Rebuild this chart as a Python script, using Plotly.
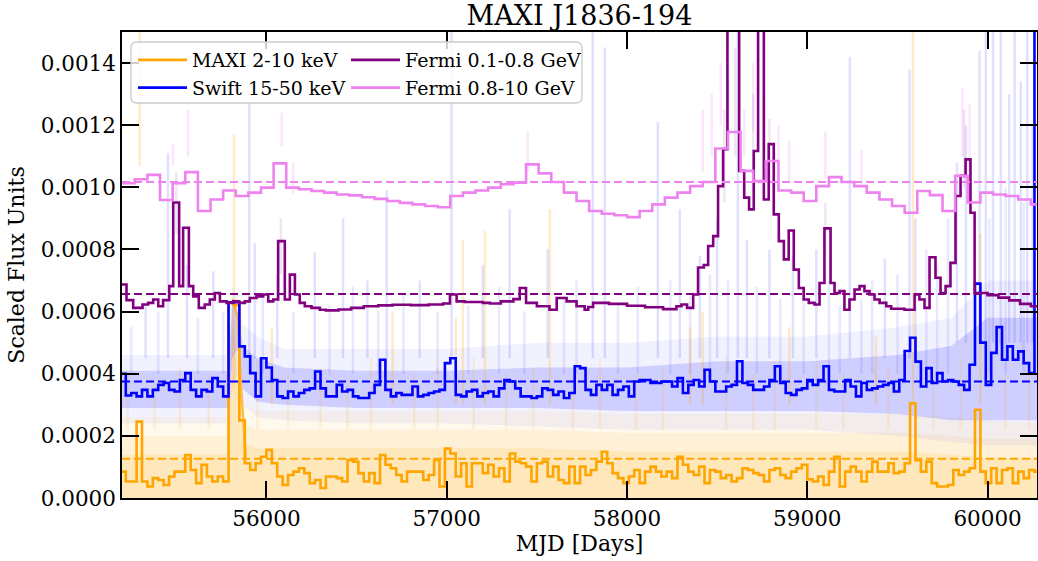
import plotly.graph_objects as go

# ---------------- data ----------------
bin_start = 55190          # MJD of first 30-day bin (MAXI / Swift)
bin_days = 30

maxi_vals = [
    0.000085, 0.000053, 0.000053, 0.000246, 0.000053, 0.000037, 0.000064, 0.000058, 0.000042, 0.000069,
    0.000085, 0.000085, 0.000138, 0.000090, 0.000048, 0.000107, 0.000069, 0.000053, 0.000069, 0.000053,
    0.000630, 0.000620, 0.000250, 0.000112, 0.000090, 0.000112, 0.000133, 0.000155, 0.000112, 0.000069,
    0.000042, 0.000074, 0.000085, 0.000096, 0.000080, 0.000048, 0.000058, 0.000032, 0.000069, 0.000069,
    0.000064, 0.000053, 0.000122, 0.000117, 0.000080, 0.000053, 0.000080, 0.000048, 0.000138, 0.000107,
    0.000096, 0.000074, 0.000053, 0.000085, 0.000085, 0.000085, 0.000058, 0.000074, 0.000122, 0.000037,
    0.000159, 0.000143, 0.000069, 0.000112, 0.000037, 0.000112, 0.000112, 0.000080, 0.000107, 0.000069,
    0.000096, 0.000053, 0.000143, 0.000117, 0.000112, 0.000101, 0.000053, 0.000112, 0.000117, 0.000069,
    0.000101, 0.000058, 0.000048, 0.000101, 0.000048, 0.000101, 0.000074, 0.000090, 0.000117, 0.000149,
    0.000112, 0.000080, 0.000064, 0.000048, 0.000069, 0.000090, 0.000048, 0.000085, 0.000101, 0.000085,
    0.000069, 0.000085, 0.000064, 0.000133, 0.000107, 0.000085, 0.000074, 0.000101, 0.000048, 0.000090,
    0.000085, 0.000064, 0.000074, 0.000053, 0.000064, 0.000096, 0.000090, 0.000080, 0.000074, 0.000053,
    0.000090, 0.000096, 0.000074, 0.000064, 0.000085, 0.000096, 0.000107, 0.000060, 0.000053, 0.000069,
    0.000042, 0.000085, 0.000133, 0.000037, 0.000085, 0.000101, 0.000085, 0.000053, 0.000085, 0.000117,
    0.000085, 0.000085, 0.000112, 0.000080, 0.000085, 0.000112, 0.000305, 0.000122, 0.000085, 0.000117,
    0.000048, 0.000037, 0.000037, 0.000042, 0.000090, 0.000074, 0.000085, 0.000096, 0.000284, 0.000085,
    0.000048, 0.000096, 0.000048, 0.000090, 0.000096, 0.000048, 0.000085, 0.000064, 0.000090, 0.000085,
]

swift_vals = [
    0.000400, 0.000330, 0.000338, 0.000327, 0.000348, 0.000327, 0.000348, 0.000364, 0.000370, 0.000348,
    0.000343, 0.000380, 0.000402, 0.000348, 0.000327, 0.000348, 0.000343, 0.000386, 0.000359, 0.000327,
    0.000630, 0.000630, 0.000488, 0.000456, 0.000402, 0.000327, 0.000450, 0.000420, 0.000380, 0.000327,
    0.000322, 0.000343, 0.000327, 0.000338, 0.000348, 0.000353, 0.000407, 0.000353, 0.000327, 0.000327,
    0.000364, 0.000343, 0.000348, 0.000327, 0.000322, 0.000322, 0.000338, 0.000364, 0.000445, 0.000348,
    0.000327, 0.000338, 0.000332, 0.000332, 0.000359, 0.000327, 0.000332, 0.000338, 0.000343, 0.000348,
    0.000434, 0.000450, 0.000332, 0.000327, 0.000343, 0.000348, 0.000327, 0.000338, 0.000343, 0.000327,
    0.000353, 0.000380, 0.000375, 0.000353, 0.000327, 0.000327, 0.000322, 0.000327, 0.000353, 0.000348,
    0.000332, 0.000343, 0.000322, 0.000338, 0.000424, 0.000418, 0.000348, 0.000332, 0.000364, 0.000348,
    0.000364, 0.000332, 0.000348, 0.000359, 0.000327, 0.000375, 0.000380, 0.000380, 0.000370, 0.000370,
    0.000375, 0.000375, 0.000359, 0.000386, 0.000338, 0.000364, 0.000380, 0.000359, 0.000413, 0.000375,
    0.000343, 0.000343, 0.000359, 0.000364, 0.000440, 0.000370, 0.000364, 0.000348, 0.000348, 0.000359,
    0.000380, 0.000424, 0.000370, 0.000338, 0.000332, 0.000348, 0.000353, 0.000380, 0.000364, 0.000380,
    0.000424, 0.000348, 0.000343, 0.000343, 0.000380, 0.000359, 0.000327, 0.000370, 0.000348, 0.000353,
    0.000359, 0.000364, 0.000370, 0.000343, 0.000380, 0.000473, 0.000516, 0.000439, 0.000359, 0.000418,
    0.000370, 0.000402, 0.000375, 0.000380, 0.000375, 0.000364, 0.000348, 0.000429, 0.000690, 0.000500,
    0.000364, 0.000467, 0.000550, 0.000445, 0.000488, 0.000445, 0.000472, 0.000434, 0.000402, 0.002500,
]

# Fermi 0.1-0.8 GeV: bin start MJDs (last entry = end of last bin) and values
fermi_lo_edges = [
    55190, 55224, 55261, 55313, 55344, 55372, 55400, 55427, 55461, 55483, 55516, 55538, 55570, 55594,
    55625, 55658, 55686, 55714, 55742, 55779, 55816, 55849, 55880, 55908, 55945, 55982, 56010, 56038,
    56065, 56102, 56130, 56158, 56185, 56213, 56250, 56296, 56330, 56400, 56470, 56540, 56620, 56700,
    56800, 56900, 56980, 57018, 57055, 57100, 57200, 57240, 57300, 57370, 57405, 57440, 57500, 57570,
    57610, 57665, 57720, 57765, 57785, 57812, 57900, 58000, 58100, 58200, 58274, 58302, 58333, 58367,
    58394, 58426, 58450, 58478, 58505, 58533, 58557, 58590, 58622, 58650, 58677, 58703, 58727, 58759,
    58786, 58814, 58842, 58870, 58897, 58925, 58953, 58980, 59008, 59040, 59068, 59095, 59129, 59151,
    59179, 59206, 59234, 59262, 59290, 59317, 59345, 59373, 59401, 59438, 59465, 59539, 59595, 59622,
    59650, 59678, 59711, 59739, 59767, 59794, 59822, 59850, 59878, 59905, 59928, 60000, 60060, 60120,
    60180, 60240, 60290,
]
fermi_lo_vals = [
    0.000687, 0.000637, 0.000612, 0.000623, 0.000628, 0.000639, 0.000617, 0.000637, 0.000682, 0.000951,
    0.000682, 0.000870, 0.000682, 0.000649, 0.000612, 0.000623, 0.000639, 0.000660, 0.000633, 0.000628,
    0.000633, 0.000628, 0.000633, 0.000644, 0.000649, 0.000655, 0.000633, 0.000639, 0.000827, 0.000639,
    0.000719, 0.000655, 0.000628, 0.000617, 0.000612, 0.000606, 0.000604, 0.000607, 0.000612, 0.000617,
    0.000620, 0.000622, 0.000621, 0.000623, 0.000626, 0.000655, 0.000633, 0.000631, 0.000628, 0.000626,
    0.000633, 0.000640, 0.000676, 0.000628, 0.000617, 0.000606, 0.000644, 0.000633, 0.000617, 0.000606,
    0.000615, 0.000628, 0.000625, 0.000619, 0.000614, 0.000608, 0.000617, 0.000623, 0.000612, 0.000655,
    0.000742, 0.000750, 0.000811, 0.000843, 0.001004, 0.001123, 0.001800, 0.001800, 0.001053, 0.000967,
    0.000929, 0.001117, 0.001800, 0.000961, 0.001139, 0.000913, 0.000827, 0.000768, 0.000861, 0.000735,
    0.000676, 0.000639, 0.000628, 0.000623, 0.000692, 0.000868, 0.000692, 0.000660, 0.000666, 0.000606,
    0.000639, 0.000671, 0.000682, 0.000666, 0.000655, 0.000639, 0.000628, 0.000617, 0.000609, 0.000606,
    0.000655, 0.000639, 0.000612, 0.000775, 0.000709, 0.000660, 0.000682, 0.000757, 0.000972, 0.001037,
    0.001090, 0.000918, 0.000660, 0.000653, 0.000645, 0.000636, 0.000625, 0.000617,
]

# Fermi 0.8-10 GeV: 70-day bins
fermi_hi_start = 55200
fermi_hi_days = 70
fermi_hi_vals = [
    0.001013, 0.001026, 0.001040, 0.000959, 0.001013, 0.001049, 0.000924, 0.000961, 0.000990, 0.000972,
    0.000983, 0.000999, 0.001077, 0.000999, 0.000994, 0.000988, 0.000983, 0.000977, 0.000974, 0.000968,
    0.000963, 0.000956, 0.000950, 0.000945, 0.000940, 0.000936, 0.000972, 0.000983, 0.000990, 0.000999,
    0.001010, 0.001015, 0.001074, 0.001045, 0.001017, 0.000983, 0.000956, 0.000924, 0.000915, 0.000910,
    0.000904, 0.000924, 0.000945, 0.000967, 0.000983, 0.001004, 0.001017, 0.001125, 0.001178, 0.001053,
    0.001020, 0.001085, 0.000990, 0.000983, 0.000956, 0.001004, 0.001033, 0.001017, 0.001004, 0.000983,
    0.000961, 0.000940, 0.000918, 0.000988, 0.000975, 0.000924, 0.001037, 0.000951, 0.000983, 0.000977,
    0.000972, 0.000961, 0.000945,
]

# long-term mean levels (dashed lines)
mean_maxi = 0.000126
mean_swift = 0.000375
mean_fermi_lo = 0.000657
mean_fermi_hi = 0.001017

# faint unbinned scatter, summarised as envelopes
band_t = [55190, 55790, 55810, 55840, 55870, 55950, 56100, 56500, 57000, 57500, 58000, 58500, 59000,
          59500, 59800, 60000, 60290]
maxi_env_outer = [0.00026, 0.00026, 0.00066, 0.00050, 0.00030, 0.00028, 0.00028, 0.00028, 0.00028,
                  0.00028, 0.00027, 0.00027, 0.00027, 0.00027, 0.00026, 0.00025, 0.00024]
maxi_env_mid = [0.00020, 0.00020, 0.00062, 0.00045, 0.00024, 0.00022, 0.00022, 0.00022, 0.00022,
                0.00022, 0.00021, 0.00021, 0.00021, 0.00021, 0.00020, 0.00019, 0.00019]
maxi_env_inner = [0.00014, 0.00014, 0.00058, 0.00038, 0.00018, 0.00016, 0.00016, 0.00016, 0.00016,
                  0.00016, 0.00015, 0.00015, 0.00015, 0.00015, 0.00014, 0.00013, 0.00013]
swift_env_lo_outer = [0.00024, 0.00024, 0.00036, 0.00040, 0.00030, 0.00026, 0.00025, 0.00024, 0.00024,
                      0.00023, 0.00022, 0.00022, 0.00022, 0.00020, 0.00018, 0.00017, 0.00017]
swift_env_hi_outer = [0.00046, 0.00046, 0.00068, 0.00066, 0.00056, 0.00052, 0.00048, 0.00048, 0.00048,
                      0.00050, 0.00050, 0.00052, 0.00052, 0.00055, 0.00058, 0.00070, 0.00070]
swift_env_lo_inner = [0.00029, 0.00029, 0.00045, 0.00048, 0.00035, 0.00031, 0.00030, 0.00029, 0.00029,
                      0.00029, 0.00028, 0.00028, 0.00028, 0.00027, 0.00025, 0.00025, 0.00025]
swift_env_hi_inner = [0.00041, 0.00041, 0.00064, 0.00060, 0.00049, 0.00045, 0.00042, 0.00041, 0.00041,
                      0.00042, 0.00042, 0.00044, 0.00044, 0.00046, 0.00049, 0.00058, 0.00058]

# prominent individual faint points (MJD, lower, upper)
swift_spike_t = [55330, 55454, 55560, 55705, 55905, 55935, 56060, 56268, 56425, 56560, 56667, 56850,
                 57027, 57200, 57349, 57560, 57810, 57877, 58171, 58293, 58404, 58500, 58615, 58665,
                 58790, 58920, 59050, 59236, 59430, 59567, 59600, 59830, 59880, 59955, 59990, 60030,
                 60073, 60120, 60150, 60184, 60220, 60250]
swift_spike_lo = [0.00045] * 31 + [0.0005] * 11
swift_spike_hi = [0.00062, 0.00111, 0.00075, 0.00073, 0.00127, 0.00082, 0.00072, 0.00079, 0.00090,
                  0.00070, 0.00099, 0.00070, 0.00150, 0.00075, 0.00093, 0.00080, 0.00150, 0.00145,
                  0.00121, 0.00093, 0.00078, 0.00090, 0.00150, 0.00083, 0.00080, 0.00078, 0.00080,
                  0.00142, 0.00077, 0.00138, 0.00090, 0.00108, 0.00120, 0.00144, 0.00150, 0.00150,
                  0.00150, 0.00130, 0.00150, 0.00134, 0.00150, 0.00120]
# weaker streaks in the scatter
swift_streak_t = [55250, 55400, 55620, 55760, 55980, 56150, 56350, 56480, 56620, 56760, 56950, 57120,
                  57290, 57430, 57650, 57720, 57950, 58060, 58240, 58350, 58460, 58560, 58720, 58850,
                  58980, 59120, 59180, 59300, 59360, 59500, 59660, 59720, 59780, 60010, 60100, 60200]
swift_streak_hi = [0.00055, 0.00060, 0.00058, 0.00060, 0.00065, 0.00060, 0.00062, 0.00068, 0.00060,
                   0.00066, 0.00060, 0.00062, 0.00068, 0.00060, 0.00065, 0.00070, 0.00062, 0.00068,
                   0.00070, 0.00065, 0.00072, 0.00070, 0.00068, 0.00064, 0.00066, 0.00070, 0.00062,
                   0.00064, 0.00070, 0.00072, 0.00080, 0.00075, 0.00090, 0.00090, 0.00100, 0.00095]
swift_streak_lo = [0.00040] * len(swift_streak_t)
maxi_spike_t = [55297, 55820, 56030, 56700, 57050, 57090, 57212, 57572, 58350, 58420, 58900, 59380,
                59586, 59960]
maxi_spike_lo = [0.00107, 0.00035, 0.0003, 0.0003, 0.0003, 0.0003, 0.0003, 0.0003, 0.0003, 0.0003,
                 0.0003, 0.0003, 0.0003, 0.0003]
maxi_spike_hi = [0.00150, 0.00117, 0.00055, 0.00060, 0.00058, 0.00083, 0.00086, 0.00093, 0.00055,
                 0.00060, 0.00055, 0.00052, 0.00150, 0.00085]
maxi_streak_t = [55230, 55380, 55520, 55680, 55950, 56120, 56300, 56450, 56580, 56820, 56950, 57150,
                 57330, 57480, 57700, 57850, 58050, 58200, 58550, 58700, 58820, 59050, 59200, 59450,
                 59700, 59850, 60100, 60230]
maxi_streak_hi = [0.00040, 0.00038, 0.00042, 0.00040, 0.00045, 0.00040, 0.00042, 0.00038, 0.00045,
                  0.00040, 0.00042, 0.00045, 0.00040, 0.00042, 0.00040, 0.00045, 0.00040, 0.00042,
                  0.00045, 0.00040, 0.00042, 0.00044, 0.00040, 0.00042, 0.00040, 0.00045, 0.00040,
                  0.00042]
maxi_streak_lo = [0.00022] * len(maxi_streak_t)
maxi_outburst_t = [55815, 55840, 55855, 55870, 55885]
maxi_outburst_v = [0.00064, 0.00058, 0.00040, 0.00025, 0.00013]
fermi_hi_err_t = [55482, 55565, 56085, 56148, 57450, 58420, 58470, 58520, 58560, 58650, 58700, 58760,
                  58840, 58900, 59100, 59300, 59860, 59900]
fermi_hi_err_lo = [0.00107, 0.00110, 0.00113, 0.00098, 0.00105, 0.00105, 0.00110, 0.00120, 0.00115,
                   0.00110, 0.00118, 0.00110, 0.00105, 0.00102, 0.00103, 0.00100, 0.00110, 0.00105]
fermi_hi_err_hi = [0.00114, 0.00125, 0.00124, 0.00108, 0.00118, 0.00125, 0.00130, 0.00140, 0.00135,
                   0.00125, 0.00140, 0.00128, 0.00120, 0.00115, 0.00118, 0.00112, 0.00132, 0.00127]
fermi_lo_err_t = [55500, 56080, 58540, 58600, 58700, 58790, 59100, 59870]
fermi_lo_err_lo = [0.00085, 0.00072, 0.00095, 0.00110, 0.00100, 0.00100, 0.00078, 0.00100]
fermi_lo_err_hi = [0.00105, 0.00090, 0.00125, 0.00145, 0.00130, 0.00122, 0.00095, 0.00125]

# ---------------- styling ----------------
C_MAXI = "#FFA500"
C_SWIFT = "#0000FF"
C_FLO = "#800080"
C_FHI = "#EE82EE"
X_RANGE = [55199, 60274]
Y_RANGE = [0, 0.0015]
FONT = "DejaVu Serif"


def rgba(hexc, a):
    h = hexc.lstrip("#")
    return "rgba(%d,%d,%d,%.3f)" % (int(h[0:2], 16), int(h[2:4], 16), int(h[4:6], 16), a)


def step_xy(edges, vals):
    return list(edges), list(vals) + [vals[-1]]


def segs(ts, los, his):
    xs, ys = [], []
    for t, lo, hi in zip(ts, los, his):
        xs += [t, t, None]
        ys += [lo, hi, None]
    return xs, ys


fig = go.Figure()


def band(lo, hi, color, alpha):
    fig.add_trace(go.Scatter(x=band_t, y=lo, mode="lines", line=dict(width=0),
                             hoverinfo="skip", showlegend=False))
    fig.add_trace(go.Scatter(x=band_t, y=hi, mode="lines", line=dict(width=0), fill="tonexty",
                             fillcolor=rgba(color, alpha), hoverinfo="skip", showlegend=False))


zeros = [0.0] * len(band_t)
band(zeros, maxi_env_outer, C_MAXI, 0.07)
band(zeros, maxi_env_mid, C_MAXI, 0.09)
band(zeros, maxi_env_inner, C_MAXI, 0.12)
band(swift_env_lo_outer, swift_env_hi_outer, C_SWIFT, 0.05)
band(swift_env_lo_inner, swift_env_hi_inner, C_SWIFT, 0.14)

for ts, los, his, col, a, w in [
    (maxi_streak_t, maxi_streak_lo, maxi_streak_hi, C_MAXI, 0.12, 2.5),
    (swift_streak_t, swift_streak_lo, swift_streak_hi, C_SWIFT, 0.09, 2.5),
    (maxi_spike_t, maxi_spike_lo, maxi_spike_hi, C_MAXI, 0.22, 2.5),
    (swift_spike_t, swift_spike_lo, swift_spike_hi, C_SWIFT, 0.12, 2.5),
    (fermi_hi_err_t, fermi_hi_err_lo, fermi_hi_err_hi, C_FHI, 0.2, 2.5),
    (fermi_lo_err_t, fermi_lo_err_lo, fermi_lo_err_hi, C_FLO, 0.1, 2.5),
]:
    sx, sy = segs(ts, los, his)
    fig.add_trace(go.Scatter(x=sx, y=sy, mode="lines", line=dict(color=rgba(col, a), width=w),
                             hoverinfo="skip", showlegend=False))

fig.add_trace(go.Scatter(x=maxi_outburst_t, y=maxi_outburst_v, mode="lines",
                         line=dict(color=rgba(C_MAXI, 0.7), width=2.5), hoverinfo="skip",
                         showlegend=False))

# --- binned step curves ---
n = len(maxi_vals)
bin_edges = [bin_start + bin_days * k for k in range(n + 1)]
hi_edges = [fermi_hi_start + fermi_hi_days * k for k in range(len(fermi_hi_vals) + 1)]

curves = [
    ("MAXI 2-10 keV", bin_edges, maxi_vals, C_MAXI, "legend", 1),
    ("Swift 15-50 keV", bin_edges, swift_vals, C_SWIFT, "legend", 2),
    ("Fermi 0.1-0.8 GeV", fermi_lo_edges, fermi_lo_vals, C_FLO, "legend2", 1),
    ("Fermi 0.8-10 GeV", hi_edges, fermi_hi_vals, C_FHI, "legend2", 2),
]
for name, edges, vals, col, lg, rank in curves:
    x, y = step_xy(edges, vals)
    fig.add_trace(go.Scatter(x=x, y=y, mode="lines", name=name, line=dict(color=col, width=2.6, shape="hv"),
                             legend=lg, legendrank=rank))

for m, col in [(mean_maxi, C_MAXI), (mean_swift, C_SWIFT), (mean_fermi_lo, C_FLO), (mean_fermi_hi, C_FHI)]:
    fig.add_trace(go.Scatter(x=X_RANGE, y=[m, m], mode="lines", line=dict(color=col, width=2, dash="8px,4px"),
                             hoverinfo="skip", showlegend=False))

# --- legend frame (rounded) ---
x0, x1, y0, y1 = 0.0098, 0.5027, 0.8476, 0.9785
rx, ry = 6 / 915, 6 / 466
path = (f"M {x0+rx},{y1} L {x1-rx},{y1} Q {x1},{y1} {x1},{y1-ry} L {x1},{y0+ry} Q {x1},{y0} {x1-rx},{y0} "
        f"L {x0+rx},{y0} Q {x0},{y0} {x0},{y0+ry} L {x0},{y1-ry} Q {x0},{y1} {x0+rx},{y1} Z")
fig.add_shape(type="path", path=path, xref="paper", yref="paper", layer="above",
              fillcolor="rgba(255,255,255,0.8)", line=dict(color="rgba(204,204,204,1)", width=1.3))

axis_common = dict(showline=True, linecolor="black", linewidth=1.5, mirror="ticks", ticks="inside",
                   ticklen=17, tickwidth=1.5, tickcolor="black", showgrid=False, zeroline=False,
                   tickfont=dict(size=21.5, family=FONT, color="black"))

leg_common = dict(xanchor="left", yanchor="top", bgcolor="rgba(0,0,0,0)", borderwidth=0,
                  font=dict(size=19, family=FONT, color="black"), itemwidth=49, tracegroupgap=0,
                  traceorder="normal")

fig.update_layout(
    width=1038, height=561,
    margin=dict(l=122, r=1, t=32, b=63, autoexpand=False),
    plot_bgcolor="white", paper_bgcolor="white",
    font=dict(family=FONT, size=22, color="black"),
    title=dict(text="MAXI J1836-194", x=0.5, xref="paper", xanchor="center", y=1, yref="paper",
               yanchor="bottom", pad=dict(b=7), font=dict(size=27, family=FONT, color="black")),
    xaxis=dict(range=X_RANGE, tickvals=[56000, 57000, 58000, 59000, 60000], tickformat="d",
               title=dict(text="MJD [Days]", standoff=6, font=dict(size=22, family=FONT)), **axis_common),
    yaxis=dict(range=Y_RANGE, tick0=0, dtick=0.0002, tickformat=".4f",
               title=dict(text="Scaled Flux Units", standoff=10, font=dict(size=22, family=FONT)),
               **axis_common),
    legend=dict(x=0.012, y=0.9806, **leg_common),
    legend2=dict(x=0.2448, y=0.9806, **leg_common),
    showlegend=True,
)

fig.write_html("out.html")
